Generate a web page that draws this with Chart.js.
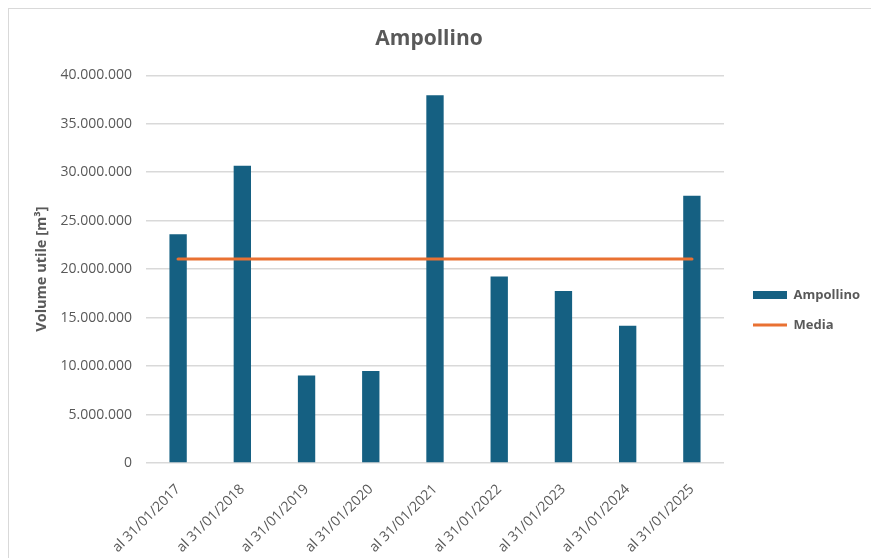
<!doctype html>
<html lang="it">
<head>
    <meta charset="UTF-8">
    <title>Ampollino - Volume utile</title>
    <script src="https://cdn.jsdelivr.net/npm/chart.js"></script>
    <style>
        body { margin: 0; background: #fff; }
        .frame {
            position: absolute; left: 8px; top: 8px;
            width: 900px; height: 600px;
            border: 1px solid #d9d9d9;
            pointer-events: none;
        }
        .chart-container {
            position: absolute; left: 0; top: 0;
            width: 871px; height: 558px;
        }
    </style>
</head>
<body>
<div class="chart-container">
    <canvas id="volChart"></canvas>
</div>
<div class="frame"></div>

<script>
    const labels = ['al 31/01/2017', 'al 31/01/2018', 'al 31/01/2019', 'al 31/01/2020', 'al 31/01/2021',
                    'al 31/01/2022', 'al 31/01/2023', 'al 31/01/2024', 'al 31/01/2025'];
    const volumi = [23600000, 30650000, 9030000, 9480000, 37940000, 19240000, 17730000, 14150000, 27560000];
    const media = [21040000, 21040000, 21040000, 21040000, 21040000, 21040000, 21040000, 21040000, 21040000];

    const grigio = '#595959';
    const font = "'Open Sans', 'Liberation Sans', sans-serif";

    // sposta la legenda un po' più in basso e a destra rispetto alla posizione standard
    const legendOffset = {
        id: 'legendOffset',
        afterLayout(chart) {
            const lg = chart.legend;
            const dx = 12, dy = 31;
            lg.left += dx; lg.right += dx;
            lg.top += dy; lg.bottom += dy;
        }
    };

    const ctx = document.getElementById('volChart').getContext('2d');
    const volChart = new Chart(ctx, {
        type: 'bar',
        data: {
            labels: labels,
            datasets: [{
                type: 'line',
                label: 'Media',
                data: media,
                borderColor: '#E97132',
                backgroundColor: '#E97132',
                borderWidth: 3.2,
                borderCapStyle: 'round',
                pointRadius: 0,
                pointHoverRadius: 0,
                pointStyle: 'line'
            }, {
                label: 'Ampollino',
                data: volumi,
                backgroundColor: '#156082',
                borderWidth: 0,
                categoryPercentage: 1.0,
                barPercentage: 0.27,
                pointStyle: 'rect'
            }]
        },
        plugins: [legendOffset],
        options: {
            responsive: true,
            maintainAspectRatio: false,
            animation: false,
            layout: { padding: { left: 0, right: 13, top: 0, bottom: 0 } },
            plugins: {
                title: {
                    display: true,
                    text: 'Ampollino',
                    color: grigio,
                    font: { family: font, size: 21, weight: 'bold' },
                    padding: { top: 26, bottom: 24 }
                },
                legend: {
                    position: 'right',
                    reverse: true,
                    labels: {
                        usePointStyle: true,
                        pointStyleWidth: 34,
                        boxHeight: 8,
                        color: grigio,
                        padding: 17,
                        font: { family: font, size: 13, weight: 'bold' }
                    }
                },
                tooltip: { enabled: false }
            },
            scales: {
                x: {
                    grid: { display: false },
                    border: { display: false },
                    ticks: {
                        autoSkip: false,
                        maxRotation: 45,
                        minRotation: 45,
                        padding: 10,
                        color: grigio,
                        font: { family: font, size: 14 }
                    },
                    afterFit: function(scale) { scale.height = 95; }
                },
                y: {
                    min: 0,
                    max: 40000000,
                    grid: { color: '#d9d9d9', lineWidth: 1.4, drawTicks: false },
                    border: { display: false },
                    ticks: {
                        stepSize: 5000000,
                        padding: 14,
                        color: grigio,
                        font: { family: font, size: 14 },
                        callback: function(v) { return v.toLocaleString('it-IT'); }
                    },
                    title: {
                        display: true,
                        text: 'Volume utile [m³]',
                        color: grigio,
                        font: { family: font, size: 14.5, weight: 'bold' },
                        padding: { top: 33, bottom: 0 }
                    },
                    afterFit: function(scale) { scale.width = 146; }
                }
            }
        }
    });
</script>
</body>
</html>
